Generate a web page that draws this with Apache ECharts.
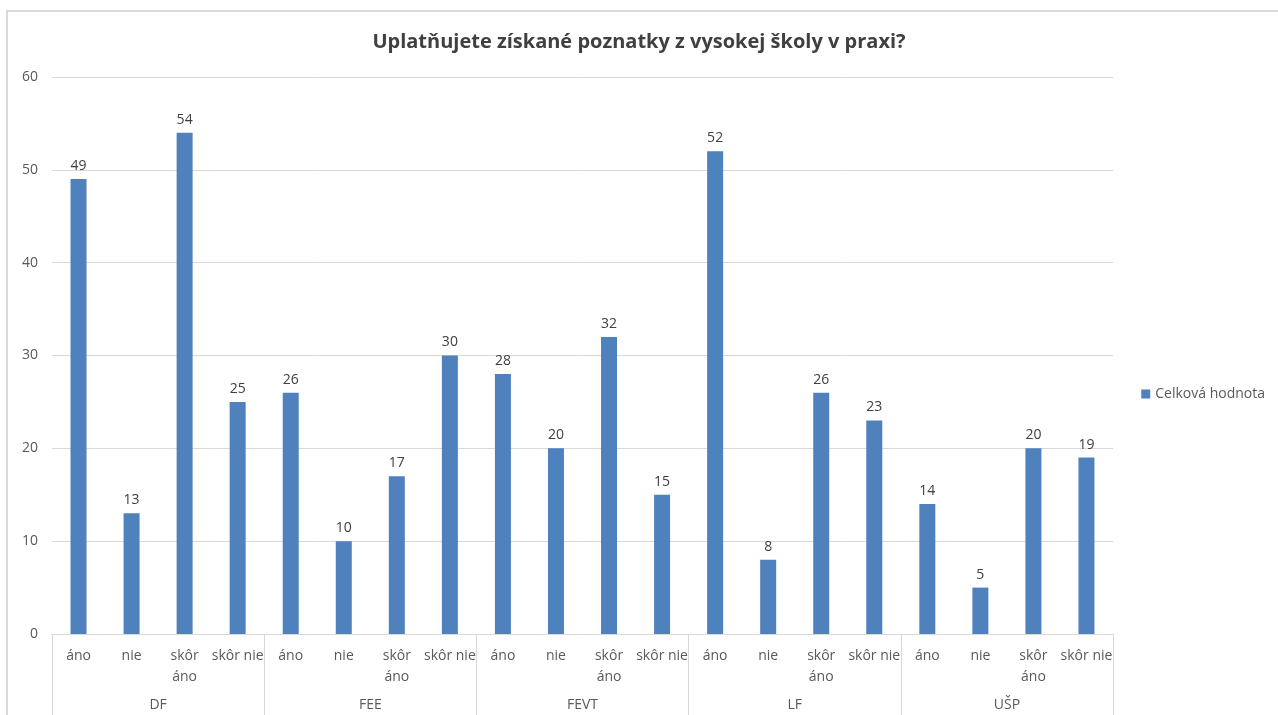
<!DOCTYPE html>
<html><head><meta charset="utf-8">
<script src="https://cdn.jsdelivr.net/npm/echarts@6/dist/echarts.min.js"></script>
<style>html,body{margin:0;padding:0;background:#fff}#c{width:1278px;height:715px}</style>
</head><body><div id="c"></div>
<script>
const title = 'Uplatňujete získané poznatky z vysokej školy v praxi?';
const groups = ['DF', 'FEE', 'FEVT', 'LF', 'UŠP'];
const answers = ['áno', 'nie', 'skôr\náno', 'skôr nie'];
const seriesName = 'Celková hodnota';
const values = [49, 13, 54, 25, 26, 10, 17, 30, 28, 20, 32, 15, 52, 8, 26, 23, 14, 5, 20, 19];
const yTicks = { min: 0, max: 60, interval: 10 };

const categories = [];
groups.forEach(g => answers.forEach(a => categories.push(a)));

const font = 'Open Sans';
const chart = echarts.init(document.getElementById('c'));
chart.setOption({
  animation: false,
  textStyle: { fontFamily: font },
  title: {
    text: title, left: 'center', top: 27,
    textStyle: { fontFamily: font, fontSize: 20, fontWeight: 'bold', color: '#404040' }
  },
  graphic: [{
    type: 'polyline', shape: { points: [[7, 715], [7, 11], [1278, 11]] },
    style: { stroke: '#d9d9d9', lineWidth: 2, fill: null }, silent: true
  }],
  legend: {
    right: 8, top: 382, orient: 'vertical', icon: 'rect', itemWidth: 9, itemHeight: 9, itemGap: 4,
    textStyle: { fontFamily: font, fontSize: 14, color: '#595959' },
    data: [seriesName]
  },
  grid: { left: 52, right: 165, top: 77, bottom: 81 },
  xAxis: [{
    type: 'category', data: categories, position: 'bottom',
    axisLine: { lineStyle: { color: '#d9d9d9', width: 1 } },
    axisTick: { show: false },
    axisLabel: { interval: 0, margin: 12, fontSize: 14, color: '#595959', lineHeight: 21, fontFamily: font }
  }, {
    type: 'category', data: groups, position: 'bottom',
    axisLine: { show: false },
    axisTick: { show: true, length: 81, lineStyle: { color: '#d9d9d9', width: 1 } },
    axisLabel: { interval: 0, margin: 64, fontSize: 14, color: '#595959', fontFamily: font }
  }],
  yAxis: {
    type: 'value', min: yTicks.min, max: yTicks.max, interval: yTicks.interval,
    axisLine: { show: false }, axisTick: { show: false },
    axisLabel: { margin: 14, fontSize: 14, color: '#595959', fontFamily: font },
    splitLine: { lineStyle: { color: '#d9d9d9', width: 1 } }
  },
  series: [{
    name: seriesName, type: 'bar', xAxisIndex: 0, data: values, barWidth: 16,
    itemStyle: { color: '#4f81bd' },
    label: { show: true, position: 'top', distance: 6, fontSize: 14, color: '#404040', fontFamily: font }
  }]
});
</script></body></html>
